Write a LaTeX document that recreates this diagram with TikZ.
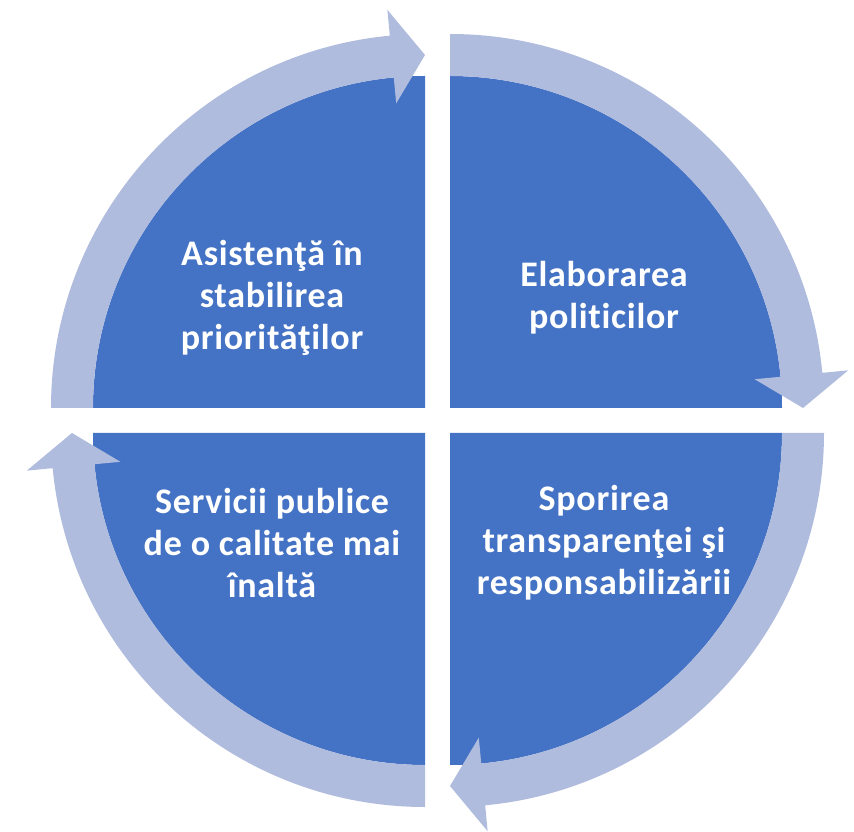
\documentclass[tikz,border=0pt]{standalone}
\usepackage{fontspec}
\setmainfont[Ligatures=NoCommon,LetterSpace=2]{Carlito}
\definecolor{quadblue}{RGB}{68,114,196}
\definecolor{bandblue}{RGB}{176,188,222}
\begin{document}
\begin{tikzpicture}[x=1pt,y=1pt,
  quad/.style={fill=quadblue},
  band/.style={fill=bandblue},
  label/.style={text=white,align=center,font=\bfseries\fontsize{36}{42}\selectfont}]
\useasboundingbox (0,0) rectangle (854,831);
% quadrants
\foreach \cx/\cy/\a in {425/423/180, 450/423/90, 450/398/0, 425/398/-90}{
  \begin{scope}[shift={(\cx,\cy)}]
    \fill[quad] (0,0) -- ({\a}:332) arc[start angle=\a, end angle={\a-90}, radius=332pt] -- cycle;
  \end{scope}
}
% circular arrows
\foreach \cx/\cy/\a in {425/423/180, 450/423/90, 450/398/0, 425/398/-90}{
  \begin{scope}[shift={(\cx,\cy)}]
    \fill[band] ({\a}:332) -- ({\a}:374)
      arc[start angle=\a, end angle={\a-84.6}, radius=374pt]
      -- ({\a-84.6}:400) -- ({\a-90}:353) -- ({\a-84.6}:306) -- ({\a-84.6}:332)
      arc[start angle={\a-84.6}, end angle=\a, radius=332pt] -- cycle;
  \end{scope}
}
\node[label] (tl) at (272,533) {Asistenţă în\\stabilirea\\priorităţilor};
\node[label] (tr) at (604,533) {Elaborarea\\politicilor};
\node[label] (bl) at (272,288) {Servicii publice\\de o calitate mai\\înaltă};
\node[label] (br) at (604,288) {Sporirea\\transparenţei şi\\responsabilizării};
\end{tikzpicture}
\end{document}
